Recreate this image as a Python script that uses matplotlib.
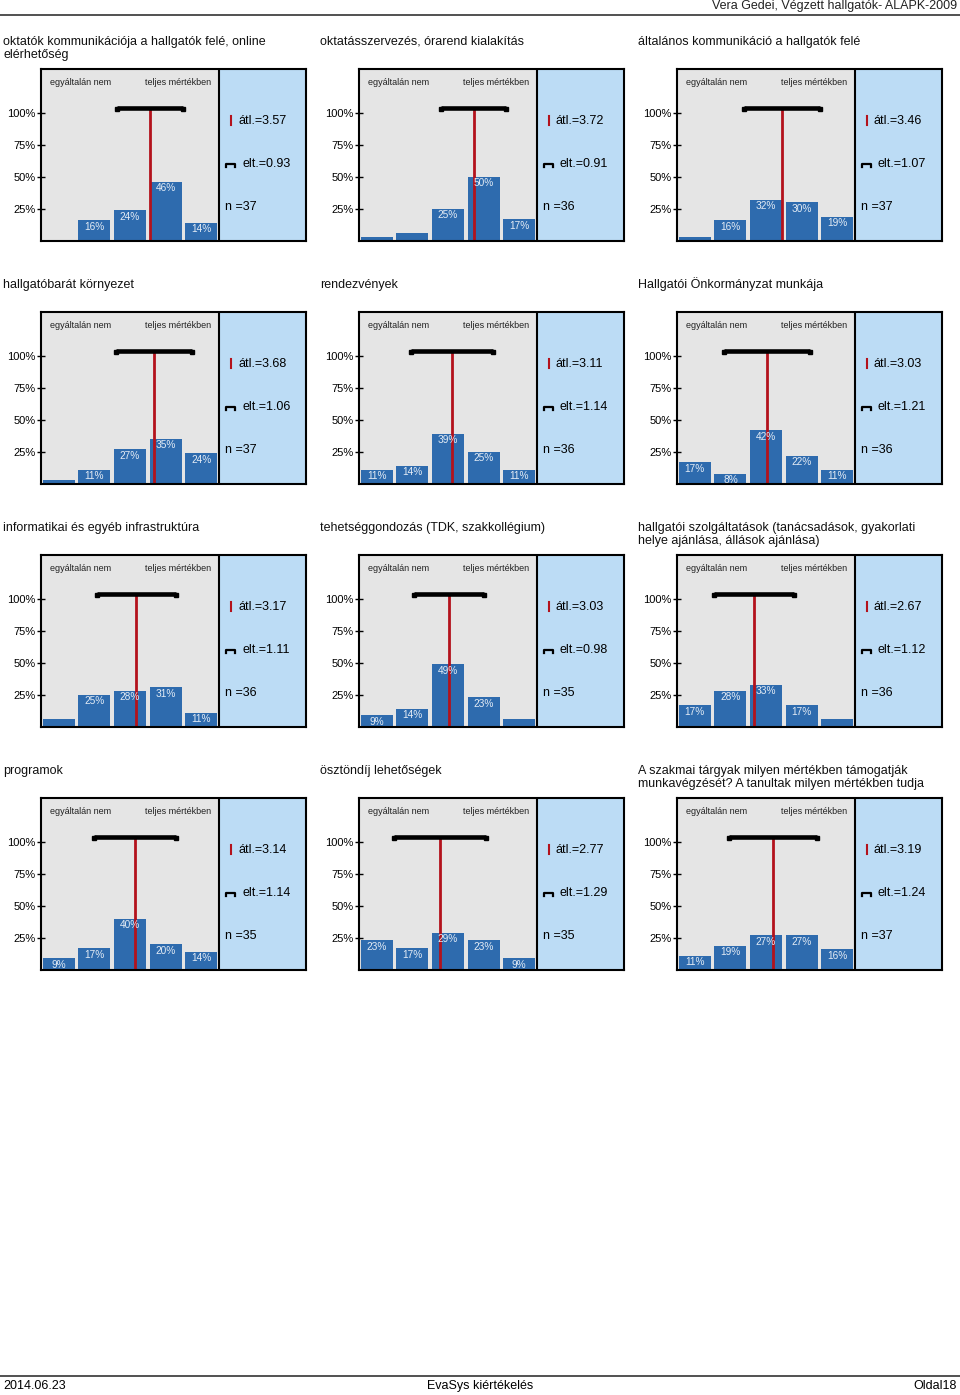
import matplotlib
matplotlib.use("Agg")
import matplotlib.pyplot as plt

plt.rcParams['font.family'] = ['Liberation Sans', 'DejaVu Sans']

# ---------------- data ----------------
titles = [
    "oktatók kommunikációja a hallgatók felé, online\nelérhetőség",
    "oktatásszervezés, órarend kialakítás",
    "általános kommunikáció a hallgatók felé",
    "hallgatóbarát környezet",
    "rendezvények",
    "Hallgatói Önkormányzat munkája",
    "informatikai és egyéb infrastruktúra",
    "tehetséggondozás (TDK, szakkollégium)",
    "hallgatói szolgáltatások (tanácsadások, gyakorlati\nhelye ajánlása, állások ajánlása)",
    "programok",
    "ösztöndíj lehetőségek",
    "A szakmai tárgyak milyen mértékben támogatják\nmunkavégzését? A tanultak milyen mértékben tudja",
]
percentages = [
    [0, 16, 24, 46, 14],
    [3, 6, 25, 50, 17],
    [3, 16, 32, 30, 19],
    [3, 11, 27, 35, 24],
    [11, 14, 39, 25, 11],
    [17, 8, 42, 22, 11],
    [6, 25, 28, 31, 11],
    [9, 14, 49, 23, 6],
    [17, 28, 33, 17, 6],
    [9, 17, 40, 20, 14],
    [23, 17, 29, 23, 9],
    [11, 19, 27, 27, 16],
]
means = [3.57, 3.72, 3.46, 3.68, 3.11, 3.03, 3.17, 3.03, 2.67, 3.14, 2.77, 3.19]
sds = [0.93, 0.91, 1.07, 1.06, 1.14, 1.21, 1.11, 0.98, 1.12, 1.14, 1.29, 1.24]
ns = [37, 36, 37, 37, 36, 36, 36, 35, 36, 35, 35, 37]
categories = [1, 2, 3, 4, 5]
yticks = [25, 50, 75, 100]
ytick_labels = ["25%", "50%", "75%", "100%"]
left_label = "egyáltalán nem"
right_label = "teljes mértékben"
header_text = "Vera Gedei, Végzett hallgatók- ALAPK-2009"
footer_left = "2014.06.23"
footer_center = "EvaSys kiértékelés"
footer_right = "Oldal18"

# ---------------- style ----------------
W, H = 960, 1395
GRAY = "#e5e5e5"
LIGHTBLUE = "#bcdcf5"
BAR = "#2e6bae"
RED = "#b3121c"
LABELC = "#e4ecf5"

col_left = [41, 359, 677]
row_top = [69, 312, 555, 798]
box_w, box_h = 265, 172
slot = 178 / 5.0
XMAX = 0.5 + box_w / slot
YMAX = 134.0

fig = plt.figure(figsize=(W / 100, H / 100), dpi=100)


def fx(px):
    return px / W


def fy(py):
    return 1 - py / H


# header / footer
fig.text(fx(957), fy(6), header_text, ha="right", va="center", fontsize=9, color="#222222")
fig.add_artist(plt.Line2D([0, 1], [fy(15), fy(15)], color="#333333", lw=1.2))
fig.add_artist(plt.Line2D([0, 1], [fy(1376), fy(1376)], color="#333333", lw=1.2))
fig.text(fx(3), fy(1386), footer_left, ha="left", va="center", fontsize=9)
fig.text(fx(480), fy(1386), footer_center, ha="center", va="center", fontsize=9)
fig.text(fx(957), fy(1386), footer_right, ha="right", va="center", fontsize=9)

title_x = [3, 320, 638]

for i in range(12):
    r, c = divmod(i, 3)
    L = col_left[c]
    T = row_top[r]
    ax = fig.add_axes([fx(L), fy(T + box_h), fx(box_w), box_h / H])
    ax.set_xlim(0.5, XMAX)
    ax.set_ylim(0, YMAX)
    ax.set_facecolor(GRAY)
    ax.axvspan(5.5, XMAX, color=LIGHTBLUE, zorder=0)
    ax.axvline(5.5, color="black", lw=1.5, zorder=5)
    for s in ax.spines.values():
        s.set_linewidth(1.5)
        s.set_zorder(6)

    vals = percentages[i]
    ax.bar(categories, vals, width=0.9, color=BAR, zorder=2)
    for x, v in zip(categories, vals):
        if v >= 7:
            ax.text(x, max(v - 5, 3.5), f"{v}%", ha="center", va="center",
                    fontsize=7.3, color=LABELC, zorder=4)

    m, sd = means[i], sds[i]
    ax.plot([m, m], [0, 104], color=RED, lw=2, zorder=3)
    ax.plot([m - sd, m + sd], [104, 104], color="black", lw=3.3, zorder=4,
            solid_capstyle="butt")
    ax.plot([m - sd, m + sd], [103.0, 103.0], ls="none", marker="s", ms=3.3,
            color="black", zorder=4)

    ax.text(1.62, 123.5, left_label, ha="center", va="center", fontsize=6.5, color="#222222")
    ax.text(4.35, 123.5, right_label, ha="center", va="center", fontsize=6.5, color="#222222")

    # right panel stats
    def dx(p):
        return 0.5 + p / slot
    ax.plot([dx(190), dx(190)], [90.5, 97.0], color=RED, lw=1.5, zorder=4)
    ax.text(dx(197), 93.8, f"átl.={m:.2f}", ha="left", va="center", fontsize=9)
    ax.plot([dx(185), dx(185), dx(194), dx(194)], [58.0, 59.8, 59.8, 58.0],
            color="black", lw=1.6, zorder=4)
    ax.text(dx(201), 60.2, f"elt.={sd:.2f}", ha="left", va="center", fontsize=9)
    ax.text(dx(184), 26.6, f"n ={ns[i]}", ha="left", va="center", fontsize=9)

    ax.set_xticks([])
    ax.set_yticks(yticks)
    ax.set_yticklabels(ytick_labels, fontsize=8)
    ax.tick_params(axis="y", direction="inout", length=6, width=1, pad=1)

    for k, line in enumerate(titles[i].split("\n")):
        fig.text(fx(title_x[c]), fy(T - 24 + 13 * k), line, ha="left", va="baseline",
                 fontsize=9, color="#111111")

fig.savefig("out.png", dpi=100)
